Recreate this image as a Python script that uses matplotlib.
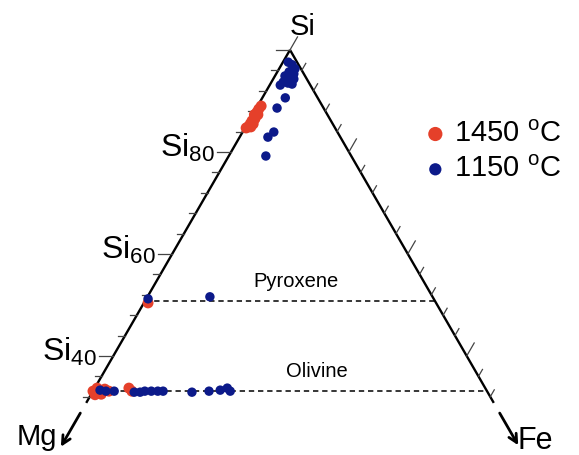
import numpy as np
import matplotlib
matplotlib.use("Agg")
import matplotlib.pyplot as plt

plt.rcParams["font.family"] = ["Liberation Sans", "DejaVu Sans"]
plt.rcParams["mathtext.fontset"] = "custom"
plt.rcParams["mathtext.rm"] = "Liberation Sans"
plt.rcParams["mathtext.it"] = "Liberation Sans:italic"

# compositions in %, Mg = 100 - Si - Fe
si_1450 = [89.0, 88.4, 87.8, 87.3, 87.3, 86.5, 86.1, 85.5, 85.5, 84.9, 84.7, 84.9,
           50.4,
           33.1, 33.7, 32.5, 33.5, 33.1, 33.7, 33.1, 32.4]
fe_1450 = [0.6, 0.5, 0.5, 0.9, 0.3, 0.8, 0.5, 0.5, 1.0, 0.4, 0.2, 0.9,
           0.7,
           0.0, 0.4, 1.7, 1.8, 2.7, 5.8, 6.6, 0.7]

si_1150 = [97.6, 97.1, 96.3, 95.3, 95.7, 94.9, 94.5, 94.3, 93.7, 93.5, 93.3, 93.1,
           90.6, 88.6, 83.9, 82.9, 79.2,
           51.2, 51.6,
           33.3, 33.1, 33.1, 32.9, 32.9, 33.1, 33.1, 33.1, 33.1, 32.9, 33.1, 33.3, 33.7, 33.1]
fe_1150 = [0.9, 1.8, 2.7, 3.0, 2.0, 1.7, 2.8, 3.5, 2.0, 2.9, 3.7, 1.8,
           3.9, 3.5, 5.3, 4.8, 6.3,
           0.3, 10.6,
           1.1, 2.2, 3.6, 7.1, 8.1, 8.8, 9.9, 11.0, 11.9, 16.9, 19.7, 21.5, 22.5, 23.3]

pyroxene_si = 50.8
olivine_si = 33.1
tick_levels = np.arange(100, 31, -4)
major_levels = [100, 80, 60, 40]
edge_end_si = 30.8

red = "#e5402a"
blue = "#0c1a8a"

S3 = np.sqrt(3) / 2
PX = 1 / 589.0  # one pixel in data units


def to_xy(si, fe):
    si = np.asarray(si, dtype=float) / 100
    fe = np.asarray(fe, dtype=float) / 100
    return fe + si / 2, si * S3


def pix(x, y):
    return (x + 4.5) * PX, (560 - y) * PX


fig = plt.figure(figsize=(5.79, 4.55), dpi=100)
ax = fig.add_axes([0, 0, 1, 1])
ax.set_xlim(pix(0, 0)[0], pix(579, 0)[0])
ax.set_ylim(pix(0, 455)[1], pix(0, 0)[1])
ax.axis("off")

# edges
si_edge = np.array([100, edge_end_si])
ax.plot(*to_xy(si_edge, [0, 0]), color="black", lw=1.7, solid_capstyle="butt")
ax.plot(*to_xy(si_edge, 100 - si_edge), color="black", lw=1.7, solid_capstyle="butt")

# ticks
for lev in tick_levels:
    length = 14 if lev in major_levels else 7
    x0, y0 = to_xy(lev, 0)
    ax.plot([x0 - length * PX, x0], [y0, y0], color="#444444", lw=0.9)
    x1, y1 = to_xy(lev, 100 - lev)
    rl = length + 1
    ax.plot([x1, x1 + rl * PX * 0.5], [y1, y1 + rl * PX * S3], color="#444444", lw=0.9)

# axis labels
for lev in [80, 60, 40]:
    x0, y0 = to_xy(lev, 0)
    ax.text(x0 - 16 * PX, y0 - 5 * PX, "Si$_{\\mathregular{%d}}$" % lev,
            ha="right", va="baseline", fontsize=23)

# mineral lines
for si_val, name, lab_x in [(pyroxene_si, "Pyroxene", 296), (olivine_si, "Olivine", 317)]:
    xs, ys = to_xy([si_val, si_val], [0, 100 - si_val])
    ax.plot(xs, ys, color="black", lw=1.1, ls=(0, (3.5, 2.5)))
    ax.text(pix(lab_x, 0)[0], ys[0] + 14 * PX, name, ha="center", va="baseline", fontsize=14.5)

# arrows to corners
ax.annotate("", xy=to_xy(22.2, 0), xytext=to_xy(28.8, 0),
            arrowprops=dict(arrowstyle="->", lw=2, color="black", mutation_scale=15,
                            shrinkA=0, shrinkB=0))
ax.annotate("", xy=to_xy(22.5, 77.5), xytext=to_xy(28.8, 71.2),
            arrowprops=dict(arrowstyle="->", lw=2, color="black", mutation_scale=15,
                            shrinkA=0, shrinkB=0))

ax.text(*pix(303, 35), "Si", ha="center", va="baseline", fontsize=21)
ax.text(*pix(37, 445), "Mg", ha="center", va="baseline", fontsize=21)
ax.text(*pix(535, 449), "Fe", ha="center", va="baseline", fontsize=22)

# data
ax.scatter(*to_xy(si_1450, fe_1450), s=62, color=red, edgecolors="none",
           label="1450 $^{\\mathregular{o}}$C", zorder=3)
ax.scatter(*to_xy(si_1150, fe_1150), s=46, color=blue, edgecolors="none",
           label="1150 $^{\\mathregular{o}}$C", zorder=4)

leg = ax.legend(loc="upper left", bbox_to_anchor=(412 / 579, 1 - 108 / 455), frameon=False,
                fontsize=21, handlelength=0.8, handletextpad=0.25, labelspacing=0.25,
                borderaxespad=0, markerscale=1.3)

fig.savefig("out.png", dpi=100)
